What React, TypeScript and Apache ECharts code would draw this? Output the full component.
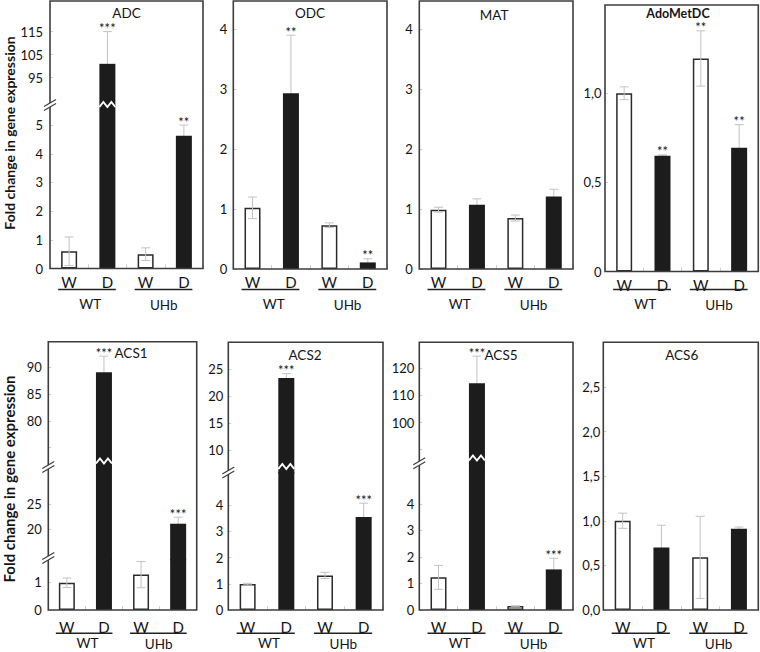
import React, { useEffect, useRef } from "react";
import * as echarts from "echarts";

// ---------- data ----------
const categories = ["W", "D", "W", "D"];
const groupNames = ["WT", "UHb"];
const yTitle = "Fold change in gene expression";

const adcValues = [0.6, 101, 0.5, 4.63];
const adcErrors = [0.5, 14, 0.22, 0.37];
const adcStars = ["", "***", "", "**"];
const adcTicksLower = [0, 1, 2, 3, 4, 5];
const adcTicksUpper = [95, 105, 115];

const odcValues = [1.02, 2.93, 0.73, 0.11];
const odcErrors = [0.18, 0.97, 0.04, 0.06];
const odcStars = ["", "**", "", "**"];
const odcTicks = [0, 1, 2, 3, 4];

const matValues = [0.99, 1.07, 0.85, 1.21];
const matErrors = [0.04, 0.1, 0.05, 0.12];
const matStars = ["", "", "", ""];
const matTicks = [0, 1, 2, 3, 4];

const adoValues = [1.0, 0.65, 1.195, 0.694];
const adoErrors = [0.036, 0.004, 0.155, 0.13];
const adoStars = ["", "**", "**", "**"];
const adoTicks = [0, 0.5, 1.0];

const acs1Values = [0.98, 89.1, 1.27, 21.1];
const acs1Errors = [0.17, 3, 0.47, 1.3];
const acs1Stars = ["", "***", "", "***"];
const acs1TicksLower = [0, 1];
const acs1TicksMiddle = [20, 25];
const acs1TicksUpper = [80, 85, 90];
const acs1MinorUpper = [75, 80, 85, 90];

const acs2Values = [0.99, 23.4, 1.32, 3.55];
const acs2Errors = [0.03, 0.8, 0.12, 0.53];
const acs2Stars = ["", "***", "", "***"];
const acs2TicksLower = [0, 1, 2, 3, 4];
const acs2TicksUpper = [10, 15, 20, 25];

const acs5Values = [1.23, 114.5, 0.15, 1.53];
const acs5Errors = [0.45, 10, 0.01, 0.42];
const acs5Stars = ["", "***", "", "***"];
const acs5TicksLower = [0, 1, 2, 3, 4];
const acs5TicksUpper = [100, 110, 120];
const acs5MinorUpper = [90, 100, 110, 120];

const acs6Values = [1.0, 0.7, 0.59, 0.91];
const acs6Errors = [0.085, 0.25, 0.46, 0.02];
const acs6Stars = ["", "", "", ""];
const acs6Ticks = [0, 0.5, 1.0, 1.5, 2.0, 2.5];

// ---------- styling / layout ----------
const FONT = "Lato, 'Open Sans', 'DejaVu Sans', sans-serif";
const INK = "#141414";
const BOX = "#3d3d3d";
const ERR = "#c2c2c2";
const TICK = "#cfcfcf";

const commaFmt = (v: number) => v.toFixed(1).replace(".", ",");
const adoFmt = (v: number) => (v === 0 ? "0" : v.toFixed(1).replace(".", ","));
const plainFmt = (v: number) => String(v);

const topRow = { catMargin: 5.5, underlineY: 289.5, groupY: 304 };
const botRow = { catMargin: 9, underlineY: 633.3, groupY: 643 };

const panels: any[] = [
  {
    title: "ADC", titleX: 126.5, titleY: 12.7, left: 50, right: 203, top: 1, bottom: 268.5,
    values: adcValues, errors: adcErrors, stars: adcStars, labelMargin: 7, fmt: plainFmt, row: topRow,
    segs: [
      { min: 0, max: 5.7, top: 105, bottom: 268.5, labels: adcTicksLower },
      { min: 83.1, max: 128.3, top: 1, bottom: 105, labels: adcTicksUpper },
    ],
    breaks: [105], zig: { index: 1, y: 105 },
  },
  {
    title: "ODC", titleX: 310, titleY: 12.7, left: 233.3, right: 387, top: 1, bottom: 269,
    values: odcValues, errors: odcErrors, stars: odcStars, labelMargin: 6, fmt: plainFmt, row: topRow,
    segs: [{ min: 0, max: 4.47, top: 1, bottom: 269, labels: odcTicks }],
    breaks: [],
  },
  {
    title: "MAT", titleX: 494, titleY: 15, left: 419.3, right: 573, top: 1, bottom: 269,
    values: matValues, errors: matErrors, stars: matStars, labelMargin: 6.5, fmt: plainFmt, row: topRow,
    segs: [{ min: 0, max: 4.47, top: 1, bottom: 269, labels: matTicks }],
    breaks: [],
  },
  {
    title: "AdoMetDC", bold: true, titleX: 678, titleY: 13, left: 605, right: 758.3, top: 5, bottom: 271.5,
    values: adoValues, errors: adoErrors, stars: adoStars, labelMargin: 3.5, fmt: adoFmt, row: topRow,
    segs: [{ min: 0, max: 1.495, top: 5, bottom: 271.5, labels: adoTicks }],
    breaks: [],
  },
  {
    title: "ACS1", titleX: 131, titleY: 352.7, left: 48.3, right: 196.7, top: 341.7, bottom: 610,
    values: acs1Values, errors: acs1Errors, stars: acs1Stars, labelMargin: 6.5, fmt: plainFmt, row: botRow,
    segs: [
      { min: 0, max: 1.83, top: 559, bottom: 610, labels: acs1TicksLower },
      { min: 14.07, max: 32.4, top: 467, bottom: 559, labels: acs1TicksMiddle },
      { min: 71.4, max: 94.8, top: 341.7, bottom: 467, labels: acs1TicksUpper, ticks: acs1MinorUpper },
    ],
    breaks: [467, 558], zig: { index: 1, y: 461.5 },
  },
  {
    title: "ACS2", titleX: 305, titleY: 355, left: 228.3, right: 383, top: 342.3, bottom: 610,
    values: acs2Values, errors: acs2Errors, stars: acs2Stars, labelMargin: 5, fmt: plainFmt, row: botRow,
    segs: [
      { min: 0, max: 5.27, top: 472, bottom: 610, labels: acs2TicksLower },
      { min: 6, max: 30, top: 342.3, bottom: 472, labels: acs2TicksUpper },
    ],
    breaks: [472.5], zig: { index: 1, y: 467 },
  },
  {
    title: "ACS5", titleX: 501, titleY: 355, left: 419.3, right: 573, top: 342.3, bottom: 610,
    values: acs5Values, errors: acs5Errors, stars: acs5Stars, labelMargin: 5, fmt: plainFmt, row: botRow,
    segs: [
      { min: 0, max: 5.54, top: 463, bottom: 610, labels: acs5TicksLower },
      { min: 85.1, max: 129.6, top: 342.3, bottom: 463, labels: acs5TicksUpper, ticks: acs5MinorUpper },
    ],
    breaks: [463.3], zig: { index: 1, y: 458.5 },
  },
  {
    title: "ACS6", titleX: 681.7, titleY: 355, left: 603.3, right: 758.3, top: 342.3, bottom: 610,
    values: acs6Values, errors: acs6Errors, stars: acs6Stars, labelMargin: 3, fmt: commaFmt, row: botRow,
    segs: [{ min: 0, max: 3, top: 342.3, bottom: 610, labels: acs6Ticks }],
    breaks: [],
  },
];

function buildOption() {
  const grid: any[] = [];
  const xAxis: any[] = [];
  const yAxis: any[] = [];
  const series: any[] = [];
  const graphic: any[] = [];

  panels.forEach((p) => {
    const width = p.right - p.left;
    const band = width / categories.length;
    p.segs.forEach((s: any, si: number) => {
      const gi = grid.length;
      const isBottom = si === 0;
      // upper segments overlap the one below by 1.5px so broken bars show no seam
      const overlap = isBottom ? 0 : 1.5;
      const pxPerUnit = (s.bottom - s.top) / (s.max - s.min);
      const axisMin = s.min - overlap / pxPerUnit;
      grid.push({ left: p.left, top: s.top, width, height: s.bottom - s.top + overlap, show: false, containLabel: false });
      xAxis.push({
        type: "category", gridIndex: gi, data: categories, show: isBottom,
        axisLine: { show: false },
        axisTick: { show: true, inside: true, length: 4, lineStyle: { color: TICK, width: 1 } },
        axisLabel: { margin: p.row.catMargin, fontSize: 15, fontFamily: FONT, color: INK },
        splitLine: { show: false },
      });
      yAxis.push({
        type: "value", gridIndex: gi, min: axisMin, max: s.max,
        axisLine: { show: false }, splitLine: { show: false },
        axisTick: { show: true, inside: true, length: 3, customValues: s.ticks || s.labels, lineStyle: { color: TICK } },
        axisLabel: { customValues: s.labels, margin: p.labelMargin, fontSize: 13, fontFamily: FONT, color: INK, formatter: p.fmt },
      });
      series.push({
        type: "bar", xAxisIndex: gi, yAxisIndex: gi, z: 2, barWidth: 16, barGap: "-100%", clip: true, silent: true,
        data: p.values.map((v: number, i: number) => (i % 2 === 0 && v > s.min ? v : "-")),
        itemStyle: { color: "#ffffff", borderColor: "#2b2b2b", borderWidth: 1.5 },
      });
      series.push({
        type: "custom", xAxisIndex: gi, yAxisIndex: gi, z: 3, silent: true,
        data: p.values.map((v: number, i: number) => [i, v, p.errors[i]]),
        renderItem: (params: any, api: any) => {
          const i = api.value(0);
          const v = api.value(1);
          const e = api.value(2);
          if (v < s.min || v > s.max) return null;
          const hi = v + e;
          const lo = v - e;
          const x = api.coord([i, v])[0];
          const yTop = api.coord([i, Math.min(hi, s.max)])[1];
          const yBot = api.coord([i, Math.max(lo, s.min)])[1];
          const children: any[] = [
            { type: "line", shape: { x1: x, y1: yTop, x2: x, y2: yBot }, style: { stroke: ERR, lineWidth: 1 } },
          ];
          if (hi <= s.max) children.push({ type: "line", shape: { x1: x - 4.5, y1: yTop, x2: x + 4.5, y2: yTop }, style: { stroke: ERR, lineWidth: 1 } });
          if (lo >= s.min) children.push({ type: "line", shape: { x1: x - 4.5, y1: yBot, x2: x + 4.5, y2: yBot }, style: { stroke: ERR, lineWidth: 1 } });
          const star = p.stars[i];
          if (star) {
            children.push({
              type: "text", x, y: yTop - 3.5,
              style: { text: star, fill: INK, font: `13px ${FONT}`, align: "center", verticalAlign: "middle" },
            });
          }
          return { type: "group", children };
        },
      });
      series.push({
        type: "bar", xAxisIndex: gi, yAxisIndex: gi, z: 4, barWidth: 16, barGap: "-100%", clip: true, silent: true,
        data: p.values.map((v: number, i: number) => (i % 2 === 1 && v > s.min ? v : "-")),
        itemStyle: { color: "#1c1c1c" },
      });
    });

    // frame
    graphic.push({
      type: "rect", z: 100, silent: true,
      shape: { x: p.left, y: p.top, width, height: p.bottom - p.top },
      style: { fill: "none", stroke: BOX, lineWidth: 1.6 },
    });
    // axis breaks
    p.breaks.forEach((J: number) => {
      const L = p.left;
      graphic.push({
        type: "polygon", z: 101, silent: true,
        shape: { points: [[L - 5, J + 1], [L + 5, J - 5], [L + 5, J - 1], [L - 5, J + 5]] },
        style: { fill: "#ffffff", stroke: "none" },
      });
      graphic.push({ type: "line", z: 102, silent: true, shape: { x1: L - 6, y1: J + 1.5, x2: L + 6, y2: J - 5.5 }, style: { stroke: BOX, lineWidth: 1.2 } });
      graphic.push({ type: "line", z: 102, silent: true, shape: { x1: L - 6, y1: J + 5.5, x2: L + 6, y2: J - 1.5 }, style: { stroke: BOX, lineWidth: 1.2 } });
    });
    // zigzag on broken bar
    if (p.zig) {
      const cx = p.left + band * (p.zig.index + 0.5);
      const y = p.zig.y;
      graphic.push({
        type: "polyline", z: 103, silent: true,
        shape: { points: [[cx - 8, y + 2], [cx - 4, y - 3], [cx, y + 2], [cx + 4, y - 3], [cx + 8, y + 2]] },
        style: { stroke: "#ffffff", lineWidth: 2, fill: "none" },
      });
    }
    // title
    graphic.push({
      type: "text", z: 104, silent: true, x: p.titleX, y: p.titleY,
      style: { text: p.title, fill: INK, font: `${p.bold ? "bold " : ""}${p.bold ? 12.5 : 13.5}px ${FONT}`, align: "center", verticalAlign: "middle" },
    });
    // group underlines + labels
    groupNames.forEach((g, gi) => {
      const cW = p.left + band * (gi * 2 + 0.5);
      const cD = p.left + band * (gi * 2 + 1.5);
      graphic.push({
        type: "line", z: 104, silent: true,
        shape: { x1: cW - 11, y1: p.row.underlineY, x2: cD + 8.5, y2: p.row.underlineY },
        style: { stroke: "#222", lineWidth: 1.5 },
      });
      graphic.push({
        type: "text", z: 104, silent: true, x: (cW + cD) / 2 + (gi === 0 ? 2 : -1), y: p.row.groupY + (gi === 0 ? 0 : 1),
        style: { text: g, fill: INK, font: `13.5px ${FONT}`, align: "center", verticalAlign: "middle" },
      });
    });
  });

  // y titles
  graphic.push({
    type: "text", z: 104, silent: true, x: 9, y: 133, rotation: Math.PI / 2,
    style: { text: yTitle, fill: INK, font: `bold 14px ${FONT}`, align: "center", verticalAlign: "middle" },
  });
  graphic.push({
    type: "text", z: 104, silent: true, x: 9, y: 479, rotation: Math.PI / 2,
    style: { text: yTitle, fill: INK, font: `bold 15px ${FONT}`, align: "center", verticalAlign: "middle" },
  });

  return { animation: false, backgroundColor: "#ffffff", grid, xAxis, yAxis, series, graphic };
}

export default function App() {
  const ref = useRef<HTMLDivElement>(null);
  useEffect(() => {
    const chart = echarts.init(ref.current as HTMLDivElement, null, { renderer: "svg" });
    chart.setOption(buildOption());
    return () => chart.dispose();
  }, []);
  return (
    <div
      ref={ref}
      style={{ position: "absolute", left: 0, top: 0, width: 760, height: 652, background: "#fff" }}
    />
  );
}
